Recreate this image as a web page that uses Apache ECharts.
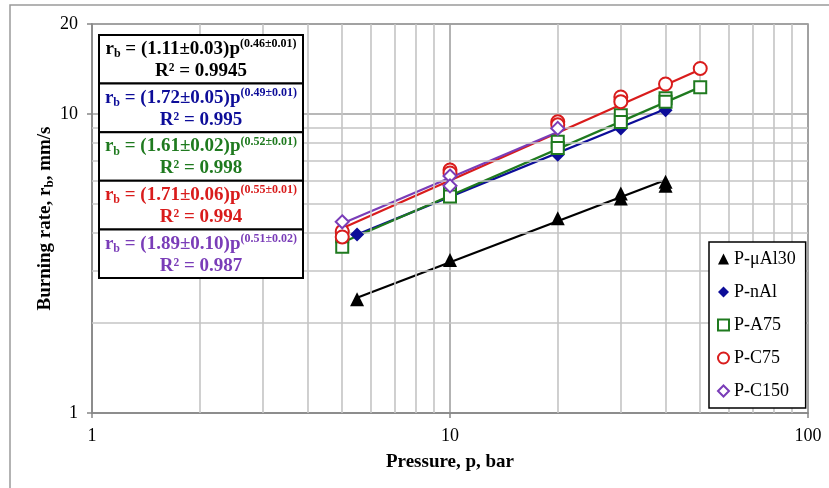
<!DOCTYPE html>
<html><head><meta charset="utf-8">
<script src="https://cdn.jsdelivr.net/npm/echarts@6/dist/echarts.min.js"></script>
<style>html,body{margin:0;padding:0;background:#fff}#c{width:829px;height:488px}</style>
</head><body><div id="c"></div>
<script>
// ---- data ----
const SERIES_NAMES = ['P-μAl30', 'P-nAl', 'P-A75', 'P-C75', 'P-C150'];

const MUAL30_P = [5.5, 10, 20, 30, 30, 40, 40];
const MUAL30_R = [2.40, 3.25, 4.48, 5.42, 5.22, 5.93, 5.75];

const NAL_P = [5.5, 10, 20, 30, 40, 40];
const NAL_R = [3.95, 5.35, 7.30, 8.95, 10.3, 11.0];

const A75_P = [5, 5, 10, 10, 20, 20, 30, 30, 40, 40, 50];
const A75_R = [3.60, 3.90, 5.40, 5.30, 8.08, 7.70, 9.90, 9.40, 11.3, 11.0, 12.3];

const C75_P = [5, 5, 10, 10, 20, 20, 30, 30, 40, 50];
const C75_R = [4.05, 3.88, 6.50, 6.35, 9.42, 9.20, 11.4, 11.0, 12.6, 14.2];

const C150_P = [5, 10, 10, 20];
const C150_R = [4.36, 6.20, 5.75, 8.95];

// trend-line end points
const TREND_MUAL30_P = [5.5, 40];  const TREND_MUAL30_R = [2.43, 6.02];
const TREND_NAL_P    = [5.5, 40];  const TREND_NAL_R    = [3.95, 10.4];
const TREND_A75_P    = [5, 50];    const TREND_A75_R    = [3.72, 12.3];
const TREND_C75_P    = [5, 50];    const TREND_C75_R    = [4.15, 14.1];
const TREND_C150_P   = [5, 20];    const TREND_C150_R   = [4.30, 8.70];

// equation labels
const EQ_COEF = ['1.11±0.03', '1.72±0.05', '1.61±0.02', '1.71±0.06', '1.89±0.10'];
const EQ_EXP  = ['0.46±0.01', '0.49±0.01', '0.52±0.01', '0.55±0.01', '0.51±0.02'];
const EQ_R2   = ['0.9945', '0.995', '0.998', '0.994', '0.987'];

// axis ranges and minor grid values
const X_MIN = 1, X_MAX = 100, Y_MIN = 1, Y_MAX = 20;
const X_MINOR = [2, 3, 4, 5, 6, 7, 8, 9, 20, 30, 40, 50, 60, 70, 80, 90];
const Y_MINOR = [2, 3, 4, 5, 6, 7, 8, 9];

// ---- styling ----
const COLORS = ['#000000', '#0d0d99', '#1f7a1f', '#d91c1c', '#7a3db8'];
const SYMBOLS = ['triangle', 'diamond', 'emptyRect', 'emptyCircle', 'emptyDiamond'];
const SIZES = [14, 14, 12, 13, 13];
const FONT = '"Liberation Serif", "Times New Roman", serif';

const zip = (a, b) => a.map((v, i) => [v, b[i]]);
const pts = [zip(MUAL30_P, MUAL30_R), zip(NAL_P, NAL_R), zip(A75_P, A75_R), zip(C75_P, C75_R), zip(C150_P, C150_R)];
const trends = [zip(TREND_MUAL30_P, TREND_MUAL30_R), zip(TREND_NAL_P, TREND_NAL_R), zip(TREND_A75_P, TREND_A75_R),
                zip(TREND_C75_P, TREND_C75_R), zip(TREND_C150_P, TREND_C150_R)];

const series = [];
// minor grid lines via markLine
series.push({
  type: 'line', name: 'grid', data: [], z: 1, silent: true,
  markLine: {
    silent: true, symbol: ['none', 'none'], label: { show: false }, animation: false,
    lineStyle: { color: '#c4c4c4', width: 1.6, type: 'solid' },
    emphasis: { disabled: true },
    data: X_MINOR.map(v => ({ xAxis: v })).concat(Y_MINOR.map(v => ({ yAxis: v })))
  }
});
trends.forEach((d, i) => series.push({
  type: 'line', name: 'trend' + i, data: d, showSymbol: false, symbol: 'none', z: 3,
  lineStyle: { color: COLORS[i], width: 2.2 }, silent: true
}));
pts.forEach((d, i) => series.push({
  type: 'scatter', name: SERIES_NAMES[i], data: d, symbol: SYMBOLS[i], symbolSize: SIZES[i], z: 5,
  itemStyle: { color: COLORS[i], borderColor: COLORS[i], opacity: 1,
               borderWidth: SYMBOLS[i].startsWith('empty') ? 2 : 0 }
}));

// equation boxes
const graphics = [{
  type: 'rect', shape: { x: 10, y: 5, width: 840, height: 500 }, z: -10, silent: true,
  style: { fill: 'none', stroke: '#9a9a9a', lineWidth: 1.5 }
}];
const BOX_TOP = 35, BOX_H = 48.6;
EQ_COEF.forEach((c, i) => {
  const top = BOX_TOP + i * BOX_H;
  graphics.push({
    type: 'rect', z: 100, shape: { x: 99, y: top, width: 204, height: BOX_H },
    style: { fill: '#fff', stroke: '#000', lineWidth: 2 }
  });
  const col = COLORS[i];
  const base = { fontFamily: FONT, fontWeight: 'bold', fill: col };
  graphics.push({
    type: 'text', z: 101, x: 201, y: top + BOX_H / 2 + 1,
    style: {
      text: '{m|r}{sub|b}{m| = (' + c + ')p}{sup|(' + EQ_EXP[i] + ')}\n{m|R² = ' + EQ_R2[i] + '}',
      align: 'center', verticalAlign: 'middle', fill: col, fontFamily: FONT, fontWeight: 'bold', fontSize: 19,
      rich: {
        m: Object.assign({ fontSize: 19, lineHeight: 22 }, base),
        sub: Object.assign({ fontSize: 12, lineHeight: 12, verticalAlign: 'bottom' }, base),
        sup: Object.assign({ fontSize: 12, lineHeight: 12, verticalAlign: 'top' }, base)
      }
    }
  });
});

const chart = echarts.init(document.getElementById('c'), null, { renderer: 'canvas' });
chart.setOption({
  animation: false,
  backgroundColor: '#fff',
  grid: { left: 92, right: 21, top: 24, bottom: 75, show: true, borderColor: '#8c8c8c', borderWidth: 1.5, backgroundColor: '#fff' },
  xAxis: {
    type: 'log', logBase: 10, min: X_MIN, max: X_MAX,
    name: 'Pressure, p, bar', nameLocation: 'middle', nameGap: 40, nameMoveOverlap: false,
    nameTextStyle: { fontFamily: FONT, fontWeight: 'bold', fontSize: 19, color: '#000' },
    axisLine: { show: true, lineStyle: { color: '#868686', width: 1.5 } },
    axisTick: { show: true, length: 5, lineStyle: { color: '#868686', width: 1.5 } },
    axisLabel: { fontFamily: FONT, fontSize: 18, color: '#000', margin: 14 },
    splitLine: { show: true, lineStyle: { color: '#a0a0a0', width: 1.6 } },
    minorTick: { show: false }, minorSplitLine: { show: false }
  },
  yAxis: {
    type: 'log', logBase: 10, min: Y_MIN, max: Y_MAX,
    name: '{m|Burning rate, r}{s|b}{m|, mm/s}', nameLocation: 'middle', nameGap: 36, nameRotate: 90,
    nameMoveOverlap: false,
    nameTextStyle: {
      fontFamily: FONT, fontWeight: 'bold', fontSize: 19, color: '#000',
      rich: {
        m: { fontFamily: FONT, fontWeight: 'bold', fontSize: 19, color: '#000', lineHeight: 22 },
        s: { fontFamily: FONT, fontWeight: 'bold', fontSize: 13, color: '#000', lineHeight: 13, verticalAlign: 'bottom' }
      }
    },
    axisLine: { show: true, lineStyle: { color: '#868686', width: 1.5 } },
    axisTick: { show: true, length: 5, lineStyle: { color: '#868686', width: 1.5 } },
    axisLabel: { fontFamily: FONT, fontSize: 18, color: '#000', margin: 14 },
    splitLine: { show: true, lineStyle: { color: '#a0a0a0', width: 1.6 } },
    minorTick: { show: false }, minorSplitLine: { show: false }
  },
  legend: {
    data: SERIES_NAMES, orient: 'vertical', left: 709, top: 242,
    itemWidth: 11, itemHeight: 11, itemGap: 15, padding: [8, 10, 8, 8],
    backgroundColor: '#fff', borderColor: '#000', borderWidth: 1.5, z: 50,
    textStyle: { fontFamily: FONT, fontSize: 18, color: '#000' }
  },
  graphic: graphics,
  series: series
});
</script>
</body></html>
